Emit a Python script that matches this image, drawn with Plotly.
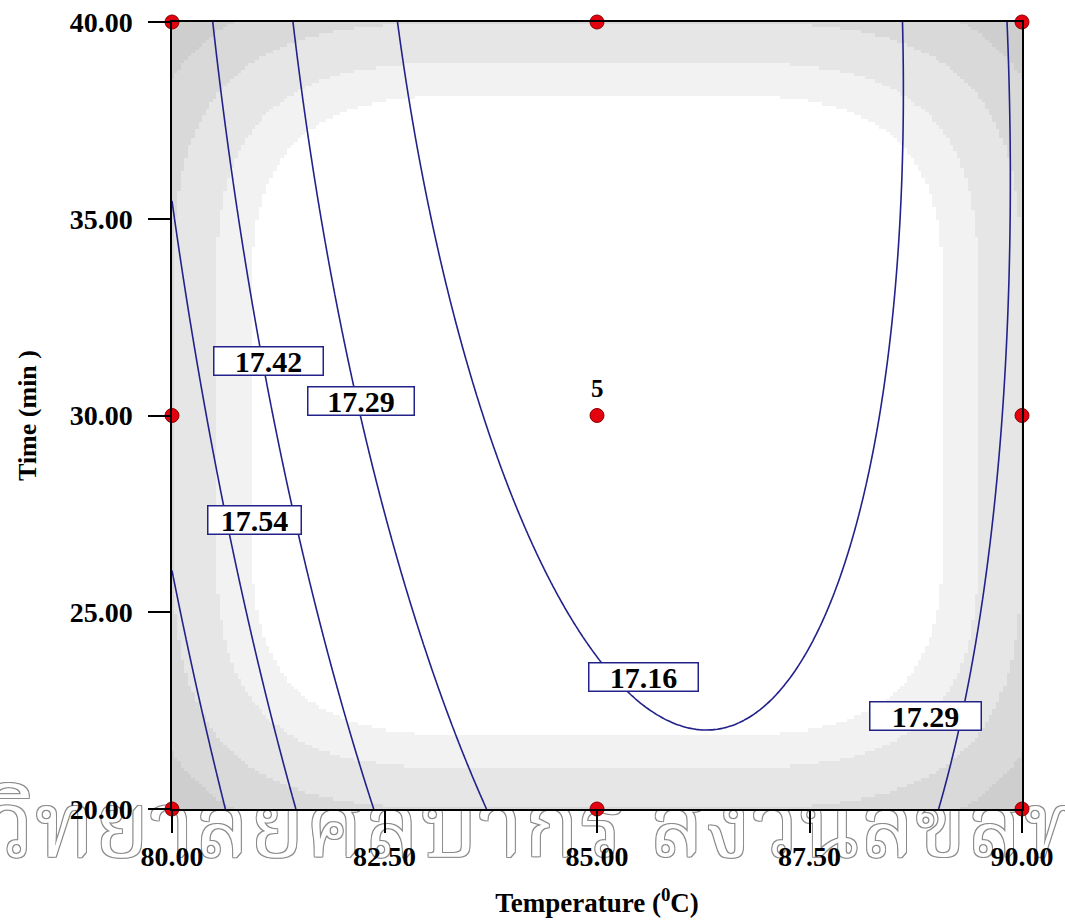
import numpy as np
import plotly.graph_objects as go

# ---- design and measured response -------------------------------------
temperature_levels = [80.0, 85.0, 90.0]          # deg C
time_levels = [20.0, 30.0, 40.0]                 # min
# mean response at each design point, one list per time level (80, 85, 90 C)
response_at_20min = [17.782, 17.213, 17.381]
response_at_30min = [17.609, 17.094, 17.317]
response_at_40min = [17.496, 17.036, 17.312]
center_runs = 5

contour_levels = [17.16, 17.29, 17.42, 17.54, 17.67]
x_ticks = [80.0, 82.5, 85.0, 87.5, 90.0]
y_ticks = [20.0, 25.0, 30.0, 35.0, 40.0]

# ---- quadratic response-surface fit -----------------------------------
t_mid = np.mean(temperature_levels)
t_half = (max(temperature_levels) - min(temperature_levels)) / 2
m_mid = np.mean(time_levels)
m_half = (max(time_levels) - min(time_levels)) / 2


def model_terms(a, b):
    a = np.asarray(a, float)
    b = np.asarray(b, float)
    return np.stack([np.ones_like(a), a, b, a * b, a * a, b * b], axis=-1)


TT, MM = np.meshgrid(temperature_levels, time_levels)
A_pts = (TT.ravel() - t_mid) / t_half
B_pts = (MM.ravel() - m_mid) / m_half
resp = np.array([response_at_20min, response_at_30min, response_at_40min]).ravel()
coef, *_ = np.linalg.lstsq(model_terms(A_pts, B_pts), resp, rcond=None)

# full run list (center point replicated) for the design standard error
run_A = np.concatenate([A_pts, np.zeros(center_runs - 1)])
run_B = np.concatenate([B_pts, np.zeros(center_runs - 1)])
Xr = model_terms(run_A, run_B)
xtx_inv = np.linalg.inv(Xr.T @ Xr)

gx = np.linspace(min(temperature_levels), max(temperature_levels), 241)
gy = np.linspace(min(time_levels), max(time_levels), 241)
GX, GY = np.meshgrid(gx, gy)
F = model_terms((GX - t_mid) / t_half, (GY - m_mid) / m_half)
z_fit = F @ coef
std_err = np.sqrt(np.einsum("...i,ij,...j->...", F, xtx_inv, F))

# stepped grey shading of the design standard error
se_breaks = [0.55, 0.61, 0.70, 0.80]
greys = ["#ffffff", "#f2f2f2", "#e6e6e6", "#d9d9d9", "#cecece"]
band = np.digitize(std_err, se_breaks)
n = len(greys)
scale = []
for i, g in enumerate(greys):
    scale.append([i / n, g])
    scale.append([(i + 1) / n, g])

serif = "Liberation Serif, Times New Roman, serif"
line_col = "#22228a"

fig = go.Figure()
fig.add_trace(go.Heatmap(
    x=gx, y=gy, z=band, zmin=-0.5, zmax=n - 0.5, colorscale=scale,
    showscale=False, hoverinfo="skip"))

for lvl in contour_levels:
    fig.add_trace(go.Contour(
        x=gx, y=gy, z=z_fit, autocontour=False,
        contours=dict(start=lvl, end=lvl, size=1, coloring="none"),
        line=dict(color=line_col, width=1.6),
        showscale=False, hoverinfo="skip"))

fig.add_trace(go.Scatter(
    x=TT.ravel(), y=MM.ravel(), mode="markers", cliponaxis=False,
    marker=dict(size=14, color="#e3000f", line=dict(color="#8a0000", width=1)),
    hoverinfo="skip"))

# contour labels
label_specs = [
    (17.42, 81.14, 31.39, 108),
    (17.29, 82.22, 30.37, 105),
    (17.54, 80.97, 27.34, 92),
    (17.16, 85.55, 23.36, 108),
    (17.29, 88.86, 22.36, 110),
]
for val, lx, ly, w in label_specs:
    fig.add_annotation(
        x=lx, y=ly, text=f"{val:.2f}", showarrow=False,
        width=w, height=27, borderpad=0, bgcolor="white",
        bordercolor=line_col, borderwidth=1.5,
        font=dict(family=serif, size=30, color="black", weight="bold"))

fig.add_annotation(
    x=85, y=30, yshift=27, text=str(center_runs), showarrow=False,
    font=dict(family=serif, size=25, color="black", weight="bold"))

# institutional watermark, kept beneath the axes so tick labels stay on top
fig.add_shape(
    type="rect", xref="paper", yref="paper", layer="below",
    x0=-0.3, x1=1.0247, y0=-0.08, y1=0.0088,
    line=dict(width=0), fillcolor="rgba(0,0,0,0)",
    label=dict(
        text="มหาวิทยาลัยศิลปากร สงวนลิขสิทธิ์",
        textposition="middle center",
        font=dict(family="Noto Serif Thai, Norasi, Kinnari, Garuda, Loma, "
                         "Noto Sans Thai, sans-serif",
                  size=92, color="white",
                  shadow="1px 1px 0 #8c8c8c, -1px -1px 0 #8c8c8c, "
                         "1px -1px 0 #8c8c8c, -1px 1px 0 #8c8c8c")))

axis_common = dict(
    showgrid=False, zeroline=False, showline=True, linecolor="black",
    linewidth=1.5, mirror=True, ticks="outside", ticklen=22, tickwidth=1.5,
    tickcolor="black", tickformat=".2f", automargin=False,
    tickfont=dict(family=serif, size=28, color="black", weight="bold"))

fig.update_layout(
    width=1065, height=922,
    margin=dict(l=172, r=43, t=22, b=113),
    paper_bgcolor="white", plot_bgcolor="white", showlegend=False,
    xaxis=dict(range=[80, 90], tickvals=x_ticks, ticklabelstandoff=0,
               title=dict(text="Temperature (<sup>0</sup>C)", standoff=22,
                          font=dict(family=serif, size=27, color="black",
                                    weight="bold")),
               **axis_common),
    yaxis=dict(range=[20, 40], tickvals=y_ticks, ticklabelstandoff=10,
               title=dict(text="Time (min )", standoff=26,
                          font=dict(family=serif, size=26, color="black",
                                    weight="bold")),
               **axis_common),
)

fig.write_html("out.html")
